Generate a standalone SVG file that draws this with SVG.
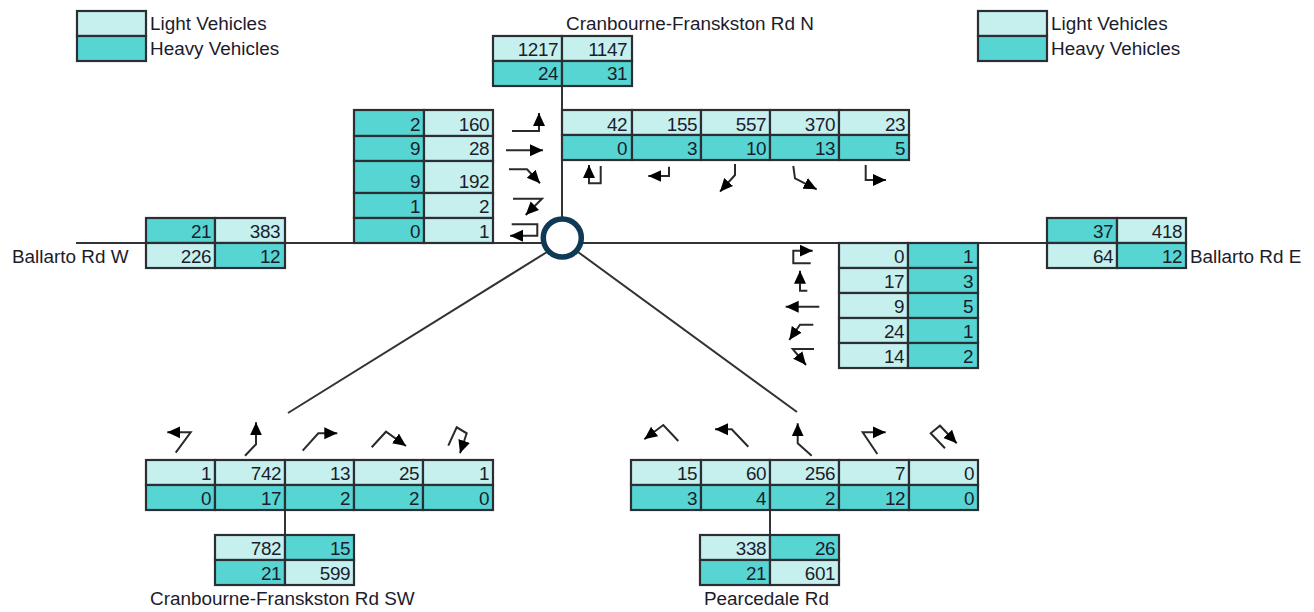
<svg xmlns="http://www.w3.org/2000/svg" width="1314" height="612" viewBox="0 0 1314 612">
<style>
.l{fill:#c6f0ee;stroke:#2b2f33;stroke-width:2.2}
.h{fill:#57d5d3;stroke:#2b2f33;stroke-width:2.2}
text{font-family:"Liberation Sans",Arial,sans-serif;font-size:18.9px;fill:#1c1c2c}
.n{text-anchor:end;letter-spacing:-0.45px}
.c{fill:none;stroke:#303438;stroke-width:2}
.a{fill:none;stroke:#2a2a2a;stroke-width:2;marker-end:url(#head)}
</style>
<defs>
<marker id="head" markerUnits="userSpaceOnUse" markerWidth="15" markerHeight="14" refX="13" refY="6.5" orient="auto"><path d="M0 0.5L13 6.5L0 12.5z" fill="#000"/></marker>
</defs>
<rect width="1314" height="612" fill="#fff"/>
<g id="connectors">
<path class="c" d="M76 243H1047M562 86V238M285 510V535M770 510V535M547 252L288 413M578 252L797 412"/>
</g>
<g id="arrows">
<path class="a" d="M512 131H539V113"/>
<path class="a" d="M506 150.3H543"/>
<path class="a" d="M509 169.3H527L540 183.3"/>
<path class="a" d="M513 198.7H542L525.7 215"/>
<path class="a" d="M511.7 224.3H537.3V235.7H510"/>
<path class="a" d="M600.7 166V183.3H589V165"/>
<path class="a" d="M669 166.7V176H648.3"/>
<path class="a" d="M735 164V175L720 191.7"/>
<path class="a" d="M793.3 166L795 178.3L816.7 189.3"/>
<path class="a" d="M865.7 165V180H886"/>
<path class="a" d="M810.7 263.3H793.3V250.7H812.7"/>
<path class="a" d="M807.3 290.7H800V270.7"/>
<path class="a" d="M819.3 306.7H785.7"/>
<path class="a" d="M813.3 324.7H800L789.3 340"/>
<path class="a" d="M814 349H792.7L806 365"/>
<path class="a" d="M175.7 452.7L190.7 432.3H167.3"/>
<path class="a" d="M245 455.7L256 444.3V422.3"/>
<path class="a" d="M302.7 450.7L318.3 433.3H337.3"/>
<path class="a" d="M371.7 447.3L386 431.7L406 446"/>
<path class="a" d="M448.3 445.7L456.7 427.3L466.7 433.3L460 453.3"/>
<path class="a" d="M678.3 441L663.3 425L644.3 439.3"/>
<path class="a" d="M748.3 446.7L731.7 429.3H715"/>
<path class="a" d="M811.7 455.7L797.7 443.3V423.3"/>
<path class="a" d="M877.3 454L862.7 432.3H885.7"/>
<path class="a" d="M945 448.3L930.7 433.3L940 425.7L956.7 443.3"/>
</g>
<g id="legend-left">
<rect class="l" x="77" y="11" width="69" height="25"/><rect class="h" x="77" y="36" width="69" height="25"/>
<text x="150" y="30">Light Vehicles</text><text x="150" y="55">Heavy Vehicles</text>
</g>
<g id="legend-right">
<rect class="l" x="978" y="11" width="69" height="25"/><rect class="h" x="978" y="36" width="69" height="25"/>
<text x="1051" y="30">Light Vehicles</text><text x="1051" y="55">Heavy Vehicles</text>
</g>
<g id="north-totals">
<rect class="l" x="493" y="36" width="69" height="25"/><rect class="l" x="562" y="36" width="70" height="25"/>
<rect class="h" x="493" y="61" width="69" height="25"/><rect class="h" x="562" y="61" width="70" height="25"/>
<text class="n" x="558" y="56">1217</text><text class="n" x="627" y="56">1147</text>
<text class="n" x="558" y="80">24</text><text class="n" x="627" y="80">31</text>
<text x="566" y="30">Cranbourne-Franskston Rd N</text>
</g>
<g id="west-approach-turns">
<rect class="h" x="354" y="110" width="70" height="26"/><rect class="l" x="424" y="110" width="69" height="26"/>
<rect class="h" x="354" y="136" width="70" height="25"/><rect class="l" x="424" y="136" width="69" height="25"/>
<rect class="h" x="354" y="161" width="70" height="32"/><rect class="l" x="424" y="161" width="69" height="32"/>
<rect class="h" x="354" y="193" width="70" height="25"/><rect class="l" x="424" y="193" width="69" height="25"/>
<rect class="h" x="354" y="218" width="70" height="25"/><rect class="l" x="424" y="218" width="69" height="25"/>
<text class="n" x="420" y="131">2</text><text class="n" x="489" y="131">160</text>
<text class="n" x="420" y="155">9</text><text class="n" x="489" y="155">28</text>
<text class="n" x="420" y="188">9</text><text class="n" x="489" y="188">192</text>
<text class="n" x="420" y="213">1</text><text class="n" x="489" y="213">2</text>
<text class="n" x="420" y="238">0</text><text class="n" x="489" y="238">1</text>
</g>
<g id="north-approach-turns">
<rect class="l" x="562" y="110" width="70" height="25"/><rect class="l" x="632" y="110" width="69" height="25"/><rect class="l" x="701" y="110" width="69" height="25"/><rect class="l" x="770" y="110" width="69" height="25"/><rect class="l" x="839" y="110" width="70" height="25"/>
<rect class="h" x="562" y="135" width="70" height="25"/><rect class="h" x="632" y="135" width="69" height="25"/><rect class="h" x="701" y="135" width="69" height="25"/><rect class="h" x="770" y="135" width="69" height="25"/><rect class="h" x="839" y="135" width="70" height="25"/>
<text class="n" x="627" y="131">42</text><text class="n" x="697" y="131">155</text><text class="n" x="766" y="131">557</text><text class="n" x="835" y="131">370</text><text class="n" x="905" y="131">23</text>
<text class="n" x="627" y="155">0</text><text class="n" x="697" y="155">3</text><text class="n" x="766" y="155">10</text><text class="n" x="835" y="155">13</text><text class="n" x="905" y="155">5</text>
</g>
<g id="west-totals">
<rect class="h" x="146" y="218" width="69" height="25"/><rect class="l" x="215" y="218" width="70" height="25"/>
<rect class="l" x="146" y="243" width="69" height="25"/><rect class="h" x="215" y="243" width="70" height="25"/>
<text class="n" x="211" y="238">21</text><text class="n" x="280" y="238">383</text>
<text class="n" x="211" y="263">226</text><text class="n" x="280" y="263">12</text>
<text x="12" y="263">Ballarto Rd W</text>
</g>
<g id="east-totals">
<rect class="h" x="1047" y="218" width="70" height="25"/><rect class="l" x="1117" y="218" width="69" height="25"/>
<rect class="l" x="1047" y="243" width="70" height="25"/><rect class="h" x="1117" y="243" width="69" height="25"/>
<text class="n" x="1113" y="238">37</text><text class="n" x="1182" y="238">418</text>
<text class="n" x="1113" y="263">64</text><text class="n" x="1182" y="263">12</text>
<text x="1190" y="263">Ballarto Rd E</text>
</g>
<g id="east-approach-turns">
<rect class="l" x="839" y="243" width="69" height="25"/><rect class="h" x="908" y="243" width="70" height="25"/>
<rect class="l" x="839" y="268" width="69" height="25"/><rect class="h" x="908" y="268" width="70" height="25"/>
<rect class="l" x="839" y="293" width="69" height="25"/><rect class="h" x="908" y="293" width="70" height="25"/>
<rect class="l" x="839" y="318" width="69" height="25"/><rect class="h" x="908" y="318" width="70" height="25"/>
<rect class="l" x="839" y="343" width="69" height="25"/><rect class="h" x="908" y="343" width="70" height="25"/>
<text class="n" x="904" y="263">0</text><text class="n" x="973" y="263">1</text>
<text class="n" x="904" y="288">17</text><text class="n" x="973" y="288">3</text>
<text class="n" x="904" y="313">9</text><text class="n" x="973" y="313">5</text>
<text class="n" x="904" y="338">24</text><text class="n" x="973" y="338">1</text>
<text class="n" x="904" y="363">14</text><text class="n" x="973" y="363">2</text>
</g>
<g id="southwest-approach-turns">
<rect class="l" x="146" y="460" width="69" height="25"/><rect class="l" x="215" y="460" width="70" height="25"/><rect class="l" x="285" y="460" width="69" height="25"/><rect class="l" x="354" y="460" width="69" height="25"/><rect class="l" x="423" y="460" width="70" height="25"/>
<rect class="h" x="146" y="485" width="69" height="25"/><rect class="h" x="215" y="485" width="70" height="25"/><rect class="h" x="285" y="485" width="69" height="25"/><rect class="h" x="354" y="485" width="69" height="25"/><rect class="h" x="423" y="485" width="70" height="25"/>
<text class="n" x="211" y="480">1</text><text class="n" x="281" y="480">742</text><text class="n" x="350" y="480">13</text><text class="n" x="419" y="480">25</text><text class="n" x="489" y="480">1</text>
<text class="n" x="211" y="505">0</text><text class="n" x="281" y="505">17</text><text class="n" x="350" y="505">2</text><text class="n" x="419" y="505">2</text><text class="n" x="489" y="505">0</text>
</g>
<g id="southeast-approach-turns">
<rect class="l" x="631" y="460" width="70" height="25"/><rect class="l" x="701" y="460" width="69" height="25"/><rect class="l" x="770" y="460" width="69" height="25"/><rect class="l" x="839" y="460" width="70" height="25"/><rect class="l" x="909" y="460" width="69" height="25"/>
<rect class="h" x="631" y="485" width="70" height="25"/><rect class="h" x="701" y="485" width="69" height="25"/><rect class="h" x="770" y="485" width="69" height="25"/><rect class="h" x="839" y="485" width="70" height="25"/><rect class="h" x="909" y="485" width="69" height="25"/>
<text class="n" x="697" y="480">15</text><text class="n" x="766" y="480">60</text><text class="n" x="835" y="480">256</text><text class="n" x="905" y="480">7</text><text class="n" x="974" y="480">0</text>
<text class="n" x="697" y="505">3</text><text class="n" x="766" y="505">4</text><text class="n" x="835" y="505">2</text><text class="n" x="905" y="505">12</text><text class="n" x="974" y="505">0</text>
</g>
<g id="southwest-totals">
<rect class="l" x="215" y="535" width="70" height="25"/><rect class="h" x="285" y="535" width="69" height="25"/>
<rect class="h" x="215" y="560" width="70" height="25"/><rect class="l" x="285" y="560" width="69" height="25"/>
<text class="n" x="281" y="555">782</text><text class="n" x="350" y="555">15</text>
<text class="n" x="281" y="580">21</text><text class="n" x="350" y="580">599</text>
<text x="150" y="605">Cranbourne-Franskston Rd SW</text>
</g>
<g id="southeast-totals">
<rect class="l" x="700" y="535" width="70" height="25"/><rect class="h" x="770" y="535" width="69" height="25"/>
<rect class="h" x="700" y="560" width="70" height="25"/><rect class="l" x="770" y="560" width="69" height="25"/>
<text class="n" x="766" y="555">338</text><text class="n" x="835" y="555">26</text>
<text class="n" x="766" y="580">21</text><text class="n" x="835" y="580">601</text>
<text x="704" y="605">Pearcedale Rd</text>
</g>
<g id="intersection">
<circle cx="562.3" cy="238" r="19" fill="#fff" stroke="#0f3a56" stroke-width="5.5"/>
</g>
</svg>
